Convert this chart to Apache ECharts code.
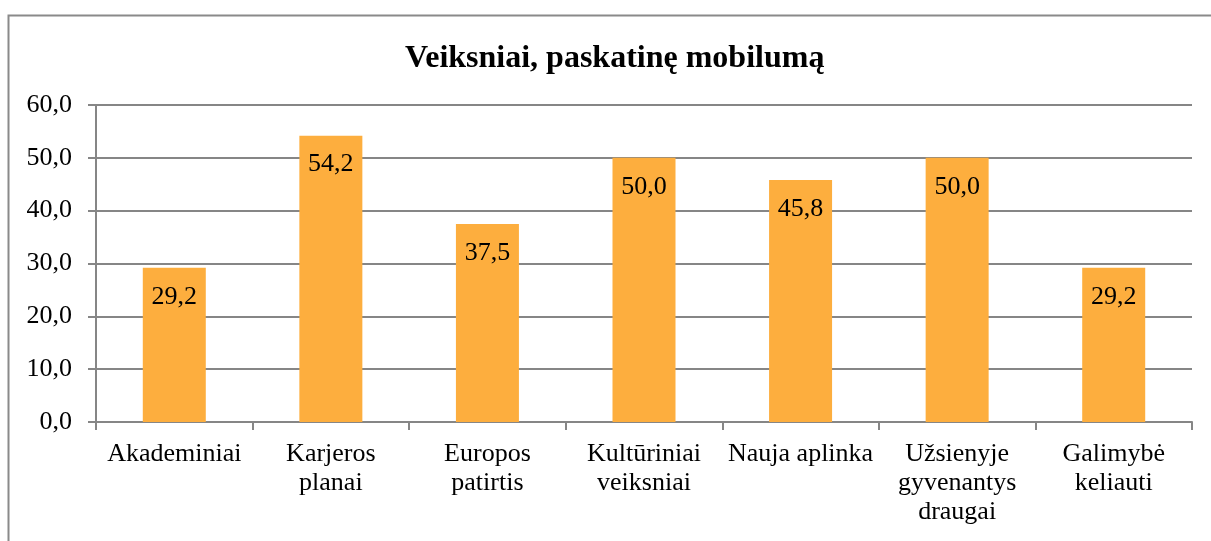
<!DOCTYPE html>
<html lang="lt">
<head>
    <meta charset="UTF-8">
    <title>Veiksniai, paskatinę mobilumą</title>
    <script src="https://cdn.jsdelivr.net/npm/echarts@6/dist/echarts.min.js"></script>
    <style>
        html, body { margin: 0; padding: 0; background: #fff; }
        #main { width: 1211px; height: 541px; }
    </style>
</head>
<body>
<div id="main"></div>
<script>
    // duomenys
    var categories = ['Akademiniai', 'Karjeros\nplanai', 'Europos\npatirtis', 'Kultūriniai\nveiksniai',
        'Nauja aplinka', 'Užsienyje\ngyvenantys\ndraugai', 'Galimybė\nkeliauti'];
    var values = [29.2, 54.2, 37.5, 50.0, 45.8, 50.0, 29.2];
    var yMin = 0, yMax = 60, yStep = 10;

    var fmt = function (v) { return Number(v).toFixed(1).replace('.', ','); };
    var serif = '"Liberation Serif", "Times New Roman", serif';

    var chart = echarts.init(document.getElementById('main'));
    chart.setOption({
        animation: false,
        backgroundColor: '#fff',
        title: {
            text: 'Veiksniai, paskatinę mobilumą',
            left: 400,
            top: 38,
            textStyle: { fontFamily: serif, fontSize: 32, fontWeight: 'bold', color: '#000' }
        },
        graphic: [{
            type: 'rect',
            shape: { x: 8.5, y: 15.5, width: 1250, height: 600 },
            style: { fill: 'none', stroke: '#8a8a8a', lineWidth: 2 },
            silent: true
        }],
        grid: { left: 96, right: 19, top: 105, bottom: 119 },
        xAxis: {
            type: 'category',
            data: categories,
            axisLine: { lineStyle: { color: '#868686', width: 2 } },
            axisTick: { show: true, length: 8, alignWithLabel: false, lineStyle: { color: '#868686', width: 2 } },
            axisLabel: { fontFamily: serif, fontSize: 26, color: '#000', margin: 18, lineHeight: 29, interval: 0 }
        },
        yAxis: {
            type: 'value',
            min: yMin, max: yMax, interval: yStep,
            axisLine: { show: true, lineStyle: { color: '#868686', width: 2 } },
            axisTick: { show: true, length: 8, lineStyle: { color: '#868686', width: 2 } },
            splitLine: { lineStyle: { color: '#868686', width: 2 } },
            axisLabel: { fontFamily: serif, fontSize: 26, color: '#000', margin: 24, formatter: fmt }
        },
        series: [{
            type: 'bar',
            data: values,
            barWidth: 63,
            itemStyle: { color: '#FDAE3E' },
            label: {
                show: true,
                position: 'insideTop',
                distance: 16,
                fontFamily: serif,
                fontSize: 26,
                color: '#000',
                formatter: function (p) { return fmt(p.value); }
            }
        }]
    });
</script>
</body>
</html>
